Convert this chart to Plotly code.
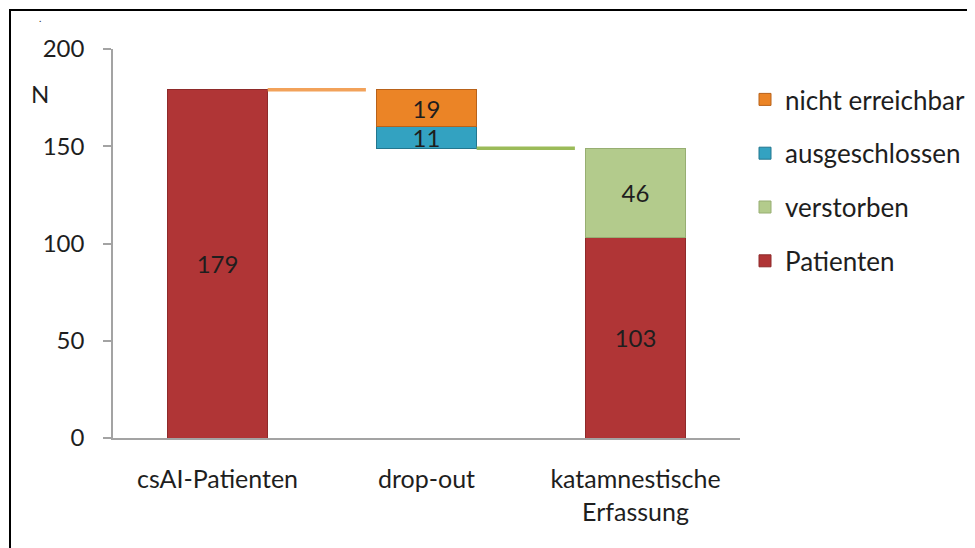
import plotly.graph_objects as go

# ---- data ----
categories = ["csAI-Patienten", "drop-out", "katamnestische<br>Erfassung"]
patienten = [179, None, 103]
verstorben = [None, None, 46]
ausgeschlossen = [None, 11, None]
nicht_erreichbar = [None, 19, None]
y_ticks = [0, 50, 100, 150, 200]

# derived levels for the waterfall
start_total = patienten[0]
after_dropout = start_total - nicht_erreichbar[1] - ausgeschlossen[1]
dropout_base = [None, after_dropout, None]

# ---- style ----
FONT = "Lato, 'Open Sans', sans-serif"
TXT = "#1e1e1e"
C_RED = "#B03536"
C_GREEN = "#B3CB8C"
C_BLUE = "#33A2C1"
C_ORANGE = "#EB8426"
BAR_W = 0.475
xs = list(range(len(categories)))

fig = go.Figure()

def bar(name, vals, color, line_color, rank):
    fig.add_trace(go.Bar(
        x=xs, y=vals, name=name, width=BAR_W,
        marker=dict(color=color, line=dict(color=line_color, width=1)),
        text=[str(v) if v is not None else "" for v in vals],
        textposition="inside", insidetextanchor="middle", textangle=0, constraintext="none",
        textfont=dict(family=FONT, size=24, color=TXT),
        showlegend=True, legendgroup=name, legendrank=rank,
    ))

bar("Patienten", patienten, C_RED, "#8E2A2A", 4)
fig.add_trace(go.Bar(x=xs, y=dropout_base, width=BAR_W,
                     marker=dict(color="rgba(0,0,0,0)", line=dict(width=0)),
                     showlegend=False, hoverinfo="skip", textposition="none"))
bar("verstorben", verstorben, C_GREEN, "#97AE72", 3)
bar("ausgeschlossen", ausgeschlossen, C_BLUE, "#23768E", 2)
bar("nicht erreichbar", nicht_erreichbar, C_ORANGE, "#B8621A", 1)

# connector lines (from bar edge towards next bar)
c0, c1 = 0.24, 0.71
fig.add_trace(go.Scatter(x=[xs[0] + c0, xs[0] + c1], y=[start_total, start_total], mode="lines",
                         line=dict(color="#F2A25A", width=3.5), showlegend=False, hoverinfo="skip"))
fig.add_trace(go.Scatter(x=[xs[1] + c0, xs[1] + c1], y=[after_dropout, after_dropout], mode="lines",
                         line=dict(color="#9BBB59", width=3.5), showlegend=False, hoverinfo="skip"))

# page has an 8px body margin -> work in page pixels, convert
OFF = 8
W, H = 967, 540
L, T = 113 - OFF, 49 - OFF
R = W - (740 - OFF)
B = H - (438 - OFF)
pw, ph = W - L - R, H - T - B

def px_x(p):  # page px -> paper
    return (p - OFF - L) / pw

def px_y(p):
    return (H - B - (p - OFF)) / ph

fig.update_layout(
    width=W, height=H, barmode="stack",
    margin=dict(l=L, r=R, t=T, b=B, autoexpand=False),
    paper_bgcolor="white", plot_bgcolor="white",
    font=dict(family=FONT, size=24, color=TXT),
    xaxis=dict(range=[-0.5, 2.5], tickmode="array", tickvals=xs, ticktext=categories,
               showline=True, linecolor="#A3A3A3", linewidth=2, ticks="", showgrid=False,
               zeroline=False, tickfont=dict(family=FONT, size=25, color=TXT), ticklabelstandoff=18),
    yaxis=dict(range=[0, 200], tickmode="array", tickvals=y_ticks, ticks="outside", ticklen=8,
               tickcolor="#A3A3A3", tickwidth=1.5, showline=True, linecolor="#A3A3A3", linewidth=1.5,
               showgrid=False, zeroline=False, tickfont=dict(family=FONT, size=24, color=TXT),
               ticklabelstandoff=14),
    legend=dict(x=px_x(745), xanchor="left", y=px_y(76), yanchor="top", traceorder="grouped",
                tracegroupgap=17, font=dict(family=FONT, size=26, color=TXT), bgcolor="rgba(0,0,0,0)"),
    showlegend=True,
    annotations=[
        dict(text="N", x=px_x(40), y=px_y(93), xref="paper", yref="paper", showarrow=False,
             xanchor="center", yanchor="middle", font=dict(family=FONT, size=24, color=TXT)),
        dict(text=".", x=px_x(40), y=px_y(18), xref="paper", yref="paper", showarrow=False,
             xanchor="center", yanchor="middle", font=dict(family=FONT, size=10, color=TXT)),
    ],
    shapes=[dict(type="rect", xref="paper", yref="paper", x0=px_x(10), x1=px_x(1100),
                 y0=px_y(700), y1=px_y(10), line=dict(color="black", width=2), fillcolor="rgba(0,0,0,0)",
                 layer="below")],
)

fig.write_html("out.html")
